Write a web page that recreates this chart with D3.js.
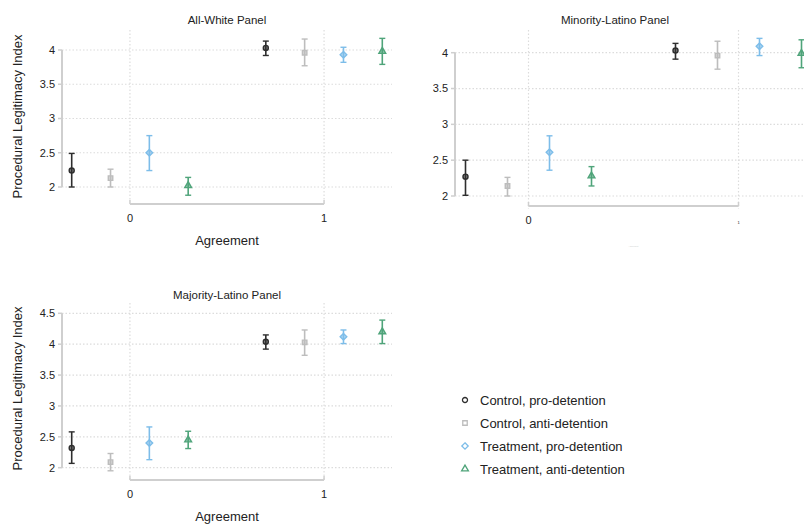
<!DOCTYPE html>
<html>
<head>
<meta charset="utf-8">
<script src="https://cdn.jsdelivr.net/npm/d3@7"></script>
<style>
  body { margin: 0; background: #fff; }
  svg { display: block; font-family: "Liberation Sans", Arial, sans-serif; }
</style>
</head>
<body>
<div id="chart"></div>
<script>
const groups = ["Control, pro-detention", "Control, anti-detention", "Treatment, pro-detention", "Treatment, anti-detention"];
const offsets = [-0.3, -0.1, 0.1, 0.3];
const agreement = [0, 1];
const colors = ["#2e2e2e", "#bdbdbd", "#7dbde9", "#4fa47a"];
const shapes = [d3.symbolCircle, d3.symbolSquare, d3.symbolDiamond2, d3.symbolTriangle];

// values ordered: agreement 0 (4 groups), then agreement 1 (4 groups)
const whiteMean = [2.24, 2.13, 2.50, 2.02, 4.03, 3.96, 3.93, 3.98];
const whiteLo   = [2.00, 2.00, 2.24, 1.88, 3.92, 3.77, 3.82, 3.79];
const whiteHi   = [2.49, 2.26, 2.75, 2.14, 4.13, 4.16, 4.04, 4.17];

const minorityMean = [2.27, 2.14, 2.61, 2.28, 4.03, 3.96, 4.09, 3.99];
const minorityLo   = [2.01, 2.00, 2.36, 2.14, 3.91, 3.77, 3.96, 3.79];
const minorityHi   = [2.50, 2.26, 2.84, 2.41, 4.13, 4.16, 4.20, 4.18];

const majorityMean = [2.32, 2.09, 2.40, 2.45, 4.04, 4.03, 4.12, 4.20];
const majorityLo   = [2.07, 1.95, 2.13, 2.31, 3.92, 3.82, 4.01, 4.01];
const majorityHi   = [2.58, 2.23, 2.66, 2.59, 4.15, 4.23, 4.23, 4.39];

const ticksA = [2, 2.5, 3, 3.5, 4];
const ticksB = [2, 2.5, 3, 3.5, 4, 4.5];

const svg = d3.select("#chart").append("svg")
  .attr("width", 804)
  .attr("height", 525);

const panels = [
  { title: "All-White Panel", mean: whiteMean, lo: whiteLo, hi: whiteHi, ticks: ticksA,
    left: 62, right: 392, yBot: 187, yTop: 50, top: 30, axisY: 204, titleY: 24, ytitle: true, xtitle: true },
  { title: "Minority-Latino Panel", mean: minorityMean, lo: minorityLo, hi: minorityHi, ticks: ticksA,
    left: 455, right: 812, yBot: 196, yTop: 52.7, top: 30, axisY: 206, titleY: 24, ytitle: false, xtitle: false },
  { title: "Majority-Latino Panel", mean: majorityMean, lo: majorityLo, hi: majorityHi, ticks: ticksB,
    left: 62, right: 392, yBot: 467.7, yTop: 313.3, top: 303, axisY: 480, titleY: 299, ytitle: true, xtitle: true }
];

panels.forEach(p => {
  const g = svg.append("g");
  const x = d3.scaleLinear().domain([-0.35, 1.35]).range([p.left, p.right]);
  const y = d3.scaleLinear().domain([2, d3.max(p.ticks)]).range([p.yBot, p.yTop]);
  const bottom = p.yBot + 13;

  // grid
  g.selectAll(".hgrid").data(p.ticks).join("line")
    .attr("x1", p.left).attr("x2", p.right)
    .attr("y1", d => y(d)).attr("y2", d => y(d))
    .attr("stroke", "#dcdcdc").attr("stroke-width", 1.2).attr("stroke-dasharray", "1.5,2");
  g.selectAll(".vgrid").data(agreement).join("line")
    .attr("x1", d => x(d)).attr("x2", d => x(d))
    .attr("y1", p.top).attr("y2", bottom)
    .attr("stroke", "#dcdcdc").attr("stroke-width", 1.2).attr("stroke-dasharray", "1.5,2");

  // y axis
  g.append("line")
    .attr("x1", p.left).attr("x2", p.left)
    .attr("y1", y(d3.max(p.ticks))).attr("y2", y(2))
    .attr("stroke", "#cfcfcf").attr("stroke-width", 2);
  g.selectAll(".ytick").data(p.ticks).join("line")
    .attr("x1", p.left - 4).attr("x2", p.left)
    .attr("y1", d => y(d)).attr("y2", d => y(d))
    .attr("stroke", "#cfcfcf").attr("stroke-width", 1.5);
  g.selectAll(".ylab").data(p.ticks).join("text")
    .attr("x", p.left - 7).attr("y", d => y(d)).attr("dy", "0.35em")
    .attr("text-anchor", "end").attr("font-size", 11).attr("fill", "#222")
    .text(d => d);

  // x axis
  g.append("line")
    .attr("x1", x(0)).attr("x2", x(1))
    .attr("y1", p.axisY).attr("y2", p.axisY)
    .attr("stroke", "#cfcfcf").attr("stroke-width", 2);
  g.selectAll(".xtick").data(agreement).join("line")
    .attr("x1", d => x(d)).attr("x2", d => x(d))
    .attr("y1", p.axisY).attr("y2", p.axisY - 4)
    .attr("stroke", "#cfcfcf").attr("stroke-width", 1.5);
  g.selectAll(".xlab").data(agreement).join("text")
    .attr("x", d => x(d)).attr("y", p.axisY + 18)
    .attr("text-anchor", "middle")
    .attr("font-size", (d, i) => p.xtitle || i === 0 ? 11 : 4)
    .attr("fill", "#222")
    .text(d => d);

  // titles
  g.append("text")
    .attr("x", p.xtitle ? (p.left + p.right) / 2 : 615).attr("y", p.titleY)
    .attr("text-anchor", "middle").attr("font-size", 11.5).attr("fill", "#222")
    .text(p.title);
  g.append("text")
    .attr("x", (x(0) + x(1)) / 2).attr("y", p.axisY + 41)
    .attr("text-anchor", "middle").attr("font-size", p.xtitle ? 13 : 2).attr("fill", p.xtitle ? "#222" : "#ccc")
    .text("Agreement");
  if (p.ytitle) {
    g.append("text")
      .attr("transform", `translate(22,${(p.yTop + p.yBot) / 2 - 2}) rotate(-90)`)
      .attr("text-anchor", "middle").attr("font-size", 13).attr("fill", "#222")
      .text("Procedural Legitimacy Index");
  }

  // points + error bars
  const pts = p.mean.map((m, i) => ({
    g: i % 4, xv: agreement[Math.floor(i / 4)] + offsets[i % 4], m, lo: p.lo[i], hi: p.hi[i]
  }));
  const pg = g.selectAll(".pt").data(pts).join("g");
  pg.append("line")
    .attr("x1", d => x(d.xv)).attr("x2", d => x(d.xv))
    .attr("y1", d => y(d.lo)).attr("y2", d => y(d.hi))
    .attr("stroke", d => colors[d.g]).attr("stroke-width", 1.6);
  ["lo", "hi"].forEach(k => {
    pg.append("line")
      .attr("x1", d => x(d.xv) - 3).attr("x2", d => x(d.xv) + 3)
      .attr("y1", d => y(d[k])).attr("y2", d => y(d[k]))
      .attr("stroke", d => colors[d.g]).attr("stroke-width", 1.4);
  });
  pg.append("path")
    .attr("transform", d => `translate(${x(d.xv)},${y(d.m)})`)
    .attr("d", d => d3.symbol(shapes[d.g], d.g === 2 ? 28 : 20)())
    .attr("fill", d => colors[d.g]).attr("fill-opacity", 0.6)
    .attr("stroke", d => colors[d.g]).attr("stroke-width", 1.4);
});

// legend
const legend = svg.append("g");
const rows = legend.selectAll("g").data(groups).join("g")
  .attr("transform", (d, i) => `translate(465,${400 + i * 23})`);
rows.append("path")
  .attr("d", (d, i) => d3.symbol(shapes[i], i === 2 ? 26 : 20)())
  .attr("fill", "none")
  .attr("stroke", (d, i) => colors[i]).attr("stroke-width", 1.3);
rows.append("text")
  .attr("x", 15).attr("dy", "0.35em")
  .attr("font-size", 13).attr("fill", "#222")
  .text(d => d);
</script>
</body>
</html>
